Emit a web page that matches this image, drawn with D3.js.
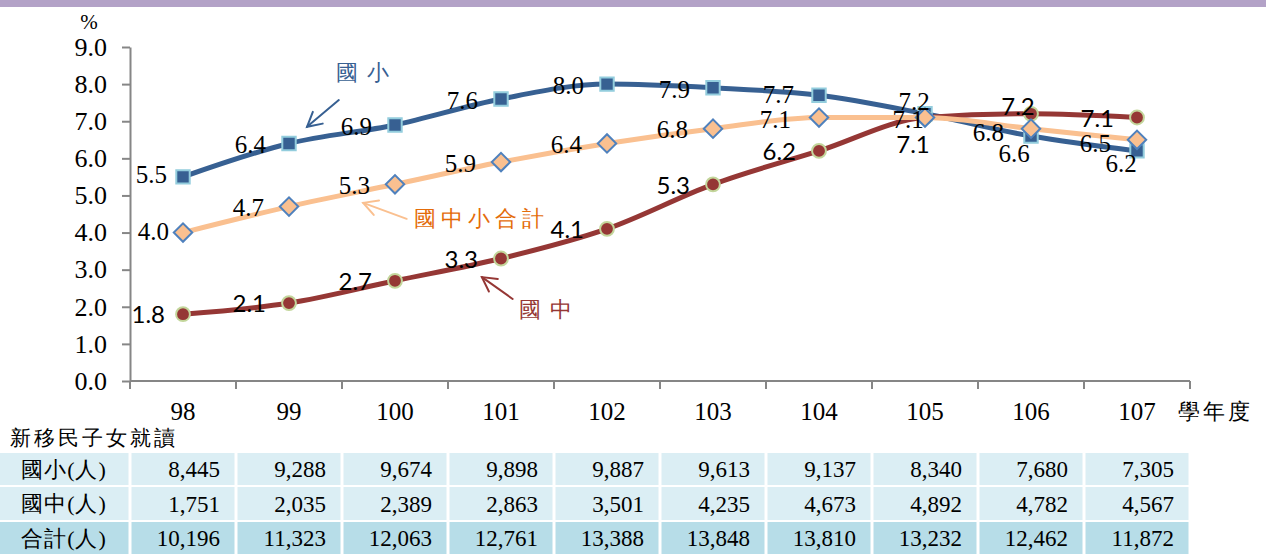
<!DOCTYPE html>
<html>
<head>
<meta charset="utf-8">
<script src="https://cdn.jsdelivr.net/npm/d3@7"></script>
<style>
  body { margin: 0; background: #fff; }
  svg { display: block; }
</style>
</head>
<body>
<div id="chart"></div>
<script>
// 新移民子女就讀國中小比率 (98-107 學年度)

const years = ["98", "99", "100", "101", "102", "103", "104", "105", "106", "107"];
const pctPrimary = [5.5, 6.4, 6.9, 7.6, 8.0, 7.9, 7.7, 7.2, 6.6, 6.2];   // 國小
const pctJunior = [1.8, 2.1, 2.7, 3.3, 4.1, 5.3, 6.2, 7.1, 7.2, 7.1];    // 國中
const pctTotal = [4.0, 4.7, 5.3, 5.9, 6.4, 6.8, 7.1, 7.1, 6.8, 6.5];     // 國中小合計
const yTicks = [0, 1, 2, 3, 4, 5, 6, 7, 8, 9];

const countPrimary = [8445, 9288, 9674, 9898, 9887, 9613, 9137, 8340, 7680, 7305];
const countJunior = [1751, 2035, 2389, 2863, 3501, 4235, 4673, 4892, 4782, 4567];
const countTotal = [10196, 11323, 12063, 12761, 13388, 13848, 13810, 13232, 12462, 11872];
const rowNames = ["國小(人)", "國中(人)", "合計(人)"];

const width = 1266, height = 554;
const plotLeft = 130, plotRight = 1190, plotTop = 47, plotBottom = 381;

const svg = d3.select("#chart")
  .append("svg")
  .attr("width", width)
  .attr("height", height);

// purple band along the top
svg.append("rect")
  .attr("x", 0).attr("y", 0)
  .attr("width", width).attr("height", 7)
  .attr("fill", "#b3a2c7");

const x = d3.scaleBand().domain(years).range([plotLeft, plotRight]);
const y = d3.scaleLinear().domain([0, 9]).range([plotBottom, plotTop]);
// fractional category position, used for the annotations
const xi = d3.scaleLinear().domain([0, years.length - 1])
  .range([x(years[0]) + x.bandwidth() / 2, x(years[years.length - 1]) + x.bandwidth() / 2]);

const serif = "'Liberation Serif', 'Times New Roman', serif";
const cjk = "'Liberation Serif', serif";   // falls back to a Ming-style CJK face
const axisColor = "#868686";

// y axis
const yAxis = svg.append("g")
  .attr("transform", `translate(${plotLeft},0)`)
  .call(d3.axisLeft(y).tickValues(yTicks).tickFormat(d3.format(".1f"))
    .tickSize(8).tickSizeOuter(0).tickPadding(15))
  .attr("font-family", serif);
yAxis.select(".domain").attr("stroke", axisColor).attr("stroke-width", 2);
yAxis.selectAll(".tick line").attr("stroke", axisColor).attr("stroke-width", 2);
yAxis.selectAll(".tick text")
  .style("font-family", serif).attr("font-size", 26).attr("fill", "#000");

svg.append("text")
  .attr("x", 89).attr("y", 29)
  .attr("text-anchor", "middle")
  .attr("font-family", serif).attr("font-size", 21)
  .text("%");

// x axis: labels at the band centres, ticks on the band edges
const xAxis = svg.append("g")
  .attr("transform", `translate(0,${plotBottom})`)
  .call(d3.axisBottom(x).tickSize(0).tickPadding(21))
  .attr("font-family", serif);
xAxis.select(".domain").remove();
xAxis.selectAll(".tick text")
  .style("font-family", serif).attr("font-size", 25).attr("fill", "#000");

svg.append("line")
  .attr("x1", plotLeft).attr("x2", plotRight)
  .attr("y1", plotBottom).attr("y2", plotBottom)
  .attr("stroke", axisColor).attr("stroke-width", 2);

svg.append("g")
  .selectAll("line")
  .data(years.map(d => x(d)).concat([plotRight]))
  .join("line")
  .attr("x1", d => d).attr("x2", d => d)
  .attr("y1", plotBottom).attr("y2", plotBottom + 8)
  .attr("stroke", axisColor).attr("stroke-width", 2);

svg.append("text")
  .attr("x", 1178).attr("y", 419)
  .attr("font-family", cjk).attr("font-size", 22)
  .attr("letter-spacing", 3)
  .text("學年度");

// series
const series = [
  { key: "primary", values: pctPrimary, line: "#376092", marker: "square",
    fill: "#376092", stroke: "#93cddd", font: serif, size: 25 },
  { key: "junior", values: pctJunior, line: "#953735", marker: "circle",
    fill: "#953735", stroke: "#c3d69b", font: "Lato, 'Liberation Sans', sans-serif", size: 24 },
  { key: "total", values: pctTotal, line: "#fac090", marker: "diamond",
    fill: "#fac090", stroke: "#4f81bd", font: serif, size: 25 }
];

const cx = i => x(years[i]) + x.bandwidth() / 2;

const line = d3.line()
  .x((d, i) => cx(i))
  .y(d => y(d))
  .curve(d3.curveMonotoneX);

svg.append("g")
  .selectAll("path")
  .data(series)
  .join("path")
  .attr("fill", "none")
  .attr("stroke", s => s.line)
  .attr("stroke-width", 5)
  .attr("stroke-linejoin", "round")
  .attr("d", s => line(s.values));

const symbols = {
  square: d3.symbol().type(d3.symbolSquare).size(180)(),
  circle: d3.symbol().type(d3.symbolCircle).size(150)(),
  diamond: d3.symbol().type(d3.symbolSquare).size(170)()
};

series.forEach(s => {
  svg.append("g")
    .selectAll("path")
    .data(s.values)
    .join("path")
    .attr("transform", (d, i) => `translate(${cx(i)},${y(d)})` + (s.marker === "diamond" ? " rotate(45)" : ""))
    .attr("d", symbols[s.marker])
    .attr("fill", s.fill)
    .attr("stroke", s.stroke)
    .attr("stroke-width", 2);
});

// data labels: by default to the left of the point, a few moved where they crowd
const labelDefault = { primary: -23, junior: -23, total: -25 };
const labelMoves = {
  "primary:0": { anchor: "end", dx: -16, dy: -3 },
  "primary:6": { anchor: "end", dx: -25, dy: -1 },
  "primary:7": { anchor: "middle", dx: -11, dy: -13 },
  "primary:8": { anchor: "middle", dx: -17, dy: 17 },
  "primary:9": { anchor: "middle", dx: -16, dy: 12 },
  "junior:0": { anchor: "end", dx: -18, dy: 0 },
  "junior:7": { anchor: "middle", dx: -12, dy: 27 },
  "junior:8": { anchor: "middle", dx: -13, dy: -7 },
  "total:0": { anchor: "end", dx: -14, dy: -1 },
  "total:6": { anchor: "end", dx: -28, dy: 2 },
  "total:7": { anchor: "middle", dx: -17, dy: 2 },
  "total:8": { anchor: "end", dx: -27, dy: 4 },
  "total:9": { anchor: "end", dx: -26, dy: 3 }
};

series.forEach(s => {
  svg.append("g")
    .selectAll("text")
    .data(s.values)
    .join("text")
    .each(function (d, i) {
      const m = labelMoves[`${s.key}:${i}`] || { anchor: "end", dx: labelDefault[s.key], dy: 1 };
      d3.select(this)
        .attr("x", cx(i) + m.dx)
        .attr("y", y(d) + m.dy)
        .attr("dy", "0.35em")
        .attr("text-anchor", m.anchor);
    })
    .attr("font-family", s.font)
    .attr("font-size", s.size)
    .attr("fill", "#000")
    .text(d => d3.format(".1f")(d));
});

// annotations with arrows (positions in category / value space)
const notes = [
  { text: "國小", color: "#376092", arrow: "#376092", spacing: 9,
    at: [1.74, 8.33], from: [1.47, 7.57], to: [1.17, 6.85] },
  { text: "國中小合計", color: "#e46c0a", arrow: "#fac090", spacing: 5,
    at: [2.82, 4.39], from: [2.11, 4.37], to: [1.70, 4.80] },
  { text: "國中", color: "#953735", arrow: "#953735", spacing: 9,
    at: [3.46, 1.94], from: [3.11, 2.21], to: [2.82, 2.80] }
];

notes.forEach(n => {
  svg.append("text")
    .attr("x", xi(n.at[0]))
    .attr("y", y(n.at[1]))
    .attr("dy", "0.36em")
    .attr("text-anchor", "middle")
    .attr("font-family", cjk)
    .attr("font-size", 22)
    .attr("letter-spacing", n.spacing)
    .attr("fill", n.color)
    .text(n.text);

  const x1 = xi(n.from[0]), y1 = y(n.from[1]);
  const x2 = xi(n.to[0]), y2 = y(n.to[1]);
  const ang = Math.atan2(y1 - y2, x1 - x2);
  const head = 16, spread = 0.5;
  const g = svg.append("g")
    .attr("stroke", n.arrow).attr("stroke-width", 2)
    .attr("fill", "none").attr("stroke-linecap", "round");
  g.append("line").attr("x1", x1).attr("y1", y1).attr("x2", x2).attr("y2", y2);
  g.append("path").attr("d", d3.line()([
    [x2 + head * Math.cos(ang - spread), y2 + head * Math.sin(ang - spread)],
    [x2, y2],
    [x2 + head * Math.cos(ang + spread), y2 + head * Math.sin(ang + spread)]
  ]));
});

// data table below the chart
svg.append("text")
  .attr("x", 10).attr("y", 437)
  .attr("dy", "0.36em")
  .attr("font-family", cjk).attr("font-size", 21)
  .attr("letter-spacing", 3)
  .text("新移民子女就讀");

const rows = [
  { name: rowNames[0], values: countPrimary, fill: "#dbeef4", y0: 453, y1: 485 },
  { name: rowNames[1], values: countJunior, fill: "#dbeef4", y0: 487, y1: 520 },
  { name: rowNames[2], values: countTotal, fill: "#b7dde8", y0: 522, y1: 554 }
];

const colEdges = [0].concat(years.map(d => x(d)), [plotRight]);

rows.forEach(r => {
  const g = svg.append("g");
  g.selectAll("rect")
    .data(d3.range(colEdges.length - 1))
    .join("rect")
    .attr("x", i => colEdges[i] + (i === 0 ? 0 : 1.5))
    .attr("width", i => colEdges[i + 1] - colEdges[i] - (i === 0 ? 1.5 : 3))
    .attr("y", r.y0)
    .attr("height", r.y1 - r.y0)
    .attr("fill", r.fill);

  const mid = (r.y0 + r.y1) / 2;
  g.append("text")
    .attr("x", 64).attr("y", mid)
    .attr("dy", "0.36em")
    .attr("text-anchor", "middle")
    .attr("font-family", cjk).attr("font-size", 22)
    .attr("letter-spacing", 1)
    .text(r.name);

  g.selectAll("text.num")
    .data(r.values)
    .join("text")
    .attr("class", "num")
    .attr("x", (d, i) => x(years[i]) + x.bandwidth() - 16)
    .attr("y", mid)
    .attr("dy", "0.35em")
    .attr("text-anchor", "end")
    .attr("font-family", serif).attr("font-size", 23)
    .text(d => d3.format(",")(d));
});
</script>
</body>
</html>
